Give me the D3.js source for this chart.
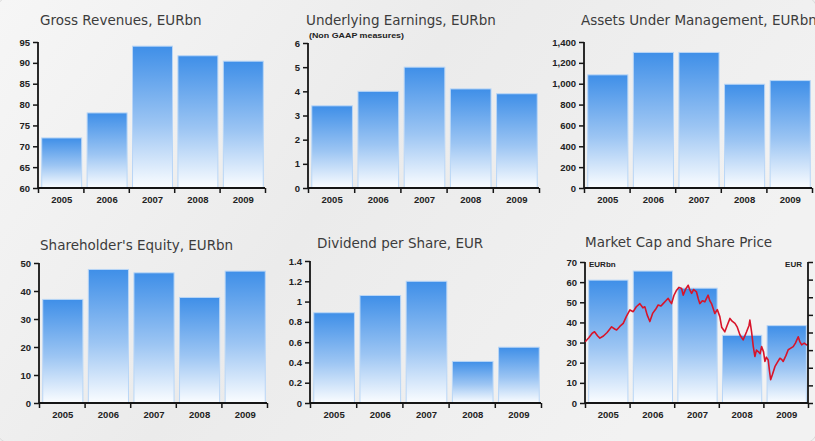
<!DOCTYPE html>
<html><head><meta charset="utf-8">
<script src="https://cdn.jsdelivr.net/npm/d3@7"></script>
<style>html,body{margin:0;padding:0;overflow:hidden;background:#eeeeee}</style>
</head><body><svg id="c" width="815" height="441"></svg>
<script>
// ---------- DATA ----------
const years = ["2005", "2006", "2007", "2008", "2009"];
const grossRevenues = [72, 78, 94, 91.7, 90.4];
const underlyingEarnings = [3.4, 4.0, 5.0, 4.1, 3.9];
const assetsUnderManagement = [1085, 1300, 1300, 995, 1030];
const shareholdersEquity = [37, 47.7, 46.5, 37.7, 47.1];
const dividendPerShare = [0.89, 1.06, 1.20, 0.41, 0.55];
const marketCap = [61, 65.5, 57, 33.6, 38.4];

const revenueTicks = [60, 65, 70, 75, 80, 85, 90, 95];
const earningsTicks = [0, 1, 2, 3, 4, 5, 6];
const aumTicks = [0, 200, 400, 600, 800, 1000, 1200, 1400];
const equityTicks = [0, 10, 20, 30, 40, 50];
const dividendTicks = [0, 0.2, 0.4, 0.6, 0.8, 1, 1.2, 1.4];
const marketCapTicks = [0, 10, 20, 30, 40, 50, 60, 70];
const priceTicks = [0, 5, 10, 15, 20, 25, 30, 35, 40];

const titles = ["Gross Revenues, EURbn", "Underlying Earnings, EURbn", "Assets Under Management, EURbn",
                "Shareholder's Equity, EURbn", "Dividend per Share, EUR", "Market Cap and Share Price"];
const earningsNote = "(Non GAAP measures)";

// share price, EUR
const sharePrice = [
["2005-01-03",17.4],["2005-02-01",18.5],["2005-03-01",19.8],["2005-03-20",20.2],["2005-04-15",19.0],
["2005-05-03",18.4],["2005-06-01",19.0],["2005-07-01",20.0],["2005-08-07",21.6],["2005-09-01",21.0],
["2005-09-17",20.7],["2005-10-15",21.8],["2005-11-10",22.6],["2005-12-05",24.5],["2006-01-04",26.4],
["2006-01-31",25.9],["2006-02-25",27.3],["2006-03-26",28.2],["2006-04-20",27.0],["2006-05-06",27.3],
["2006-05-25",25.0],["2006-06-16",23.1],["2006-07-10",25.5],["2006-08-01",26.5],["2006-08-23",27.8],
["2006-09-15",27.5],["2006-10-03",28.2],["2006-10-25",29.0],["2006-11-13",29.7],["2006-11-28",28.8],
["2006-12-11",28.2],["2006-12-30",30.5],["2007-01-21",32.0],["2007-02-10",32.8],["2007-03-03",32.5],
["2007-03-16",30.6],["2007-04-05",32.3],["2007-04-26",33.4],["2007-05-10",32.0],["2007-05-24",31.1],
["2007-06-10",32.2],["2007-07-03",31.5],["2007-07-18",29.5],["2007-07-30",28.2],["2007-08-20",29.0],
["2007-09-09",28.7],["2007-10-06",30.6],["2007-10-20",29.0],["2007-11-03",28.2],["2007-11-30",25.4],
["2007-12-20",26.5],["2008-01-10",24.5],["2008-01-25",21.5],["2008-02-20",20.2],["2008-03-10",22.0],
["2008-04-02",24.0],["2008-04-20",23.2],["2008-05-13",22.6],["2008-06-01",21.5],["2008-06-23",19.3],
["2008-07-19",17.9],["2008-08-16",20.2],["2008-09-05",22.0],["2008-09-12",23.5],["2008-09-26",20.2],
["2008-10-10",16.0],["2008-10-23",13.2],["2008-11-05",15.0],["2008-11-19",14.6],["2008-12-05",14.0],
["2008-12-17",16.0],["2009-01-02",14.5],["2009-01-13",11.8],["2009-01-25",13.0],["2009-02-09",12.2],
["2009-02-20",9.0],["2009-03-01",6.6],["2009-03-15",8.0],["2009-04-05",10.3],["2009-04-25",11.5],
["2009-05-16",12.7],["2009-06-01",12.3],["2009-06-12",11.8],["2009-07-05",13.5],["2009-07-23",15.1],
["2009-08-10",15.5],["2009-09-02",16.0],["2009-09-20",17.0],["2009-10-13",18.8],["2009-10-25",17.5],
["2009-11-10",16.5],["2009-12-01",17.0],["2009-12-20",16.5],["2009-12-31",16.7]
];

// ---------- DRAW ----------
const svg = d3.select("#c");
const defs = svg.append("defs");

const bgG = defs.append("linearGradient").attr("id", "bg")
  .attr("x1", 0).attr("y1", 0).attr("x2", 1).attr("y2", 0.4);
bgG.append("stop").attr("offset", "0").attr("stop-color", "#f6f6f6");
bgG.append("stop").attr("offset", "0.5").attr("stop-color", "#ebebeb");
bgG.append("stop").attr("offset", "1").attr("stop-color", "#f2f2f2");

const barG = defs.append("linearGradient").attr("id", "barGrad")
  .attr("x1", 0).attr("y1", 0).attr("x2", 0).attr("y2", 1);
barG.append("stop").attr("offset", "0").attr("stop-color", "#3f8fe8");
barG.append("stop").attr("offset", "0.55").attr("stop-color", "#9cc5f3");
barG.append("stop").attr("offset", "1").attr("stop-color", "#fbfdff");

svg.append("rect").attr("width", 815).attr("height", 441).attr("fill", "url(#bg)");
svg.append("rect").attr("x", -4).attr("y", -4).attr("width", 822).attr("height", 448)
  .attr("rx", 16).attr("fill", "none").attr("stroke", "#dadada").attr("stroke-width", 1);

const titleFont = "'DejaVu Sans', Verdana, sans-serif";
const tickFont = "'Liberation Sans', Arial, sans-serif";

function styleAxis(sel) {
  sel.selectAll("path.domain").attr("stroke", "#151515").attr("stroke-width", 1.8);
  sel.selectAll(".tick line").attr("stroke", "#151515").attr("stroke-width", 1.5);
  sel.selectAll(".tick text").attr("font-family", tickFont).attr("font-weight", "bold")
    .attr("font-size", "9.5px").attr("fill", "#222");
}

function panel(cfg) {
  const g = svg.append("g");
  const x = d3.scaleBand().domain(years).range([cfg.x0, cfg.x1])
    .paddingInner(0.12).paddingOuter(0.06);
  const y = d3.scaleLinear().domain([cfg.ticks[0], cfg.ticks[cfg.ticks.length - 1]])
    .range([cfg.yBot, cfg.yTop]);

  g.selectAll("rect.bar").data(cfg.values).join("rect").attr("class", "bar")
    .attr("x", (d, i) => x(years[i]) + 1)
    .attr("width", x.bandwidth())
    .attr("y", d => y(d))
    .attr("height", d => cfg.yBot - y(d))
    .attr("fill", "url(#barGrad)")
    .attr("stroke", "#b9d6f6").attr("stroke-width", 1);

  // x axis: boundary ticks
  const b = d3.scaleLinear().domain([0, years.length]).range([cfg.x0, cfg.x1]);
  const xb = g.append("g").attr("transform", `translate(0,${cfg.yBot})`)
    .call(d3.axisBottom(b).tickValues(d3.range(years.length + 1)).tickSize(5).tickFormat(""));
  styleAxis(xb);
  xb.select("path.domain").attr("d", `M${cfg.x0},0H${cfg.x1}`);
  // x labels
  const xl = g.append("g").attr("transform", `translate(1,${cfg.yBot})`)
    .call(d3.axisBottom(x).tickSize(0).tickPadding(8));
  xl.select("path.domain").remove();
  styleAxis(xl);

  // y axis
  const ya = g.append("g").attr("transform", `translate(${cfg.x0},0)`)
    .call(d3.axisLeft(y).tickValues(cfg.ticks).tickSize(5).tickPadding(3)
      .tickFormat(cfg.fmt || d3.format("")));
  styleAxis(ya);
  ya.select("path.domain").attr("d", `M0,${cfg.yTop}V${cfg.yBot}`);

  g.append("text").attr("x", cfg.tx).attr("y", cfg.ty).text(cfg.title)
    .attr("font-family", titleFont).attr("font-size", "13.5px").attr("fill", "#3c3c3c");
  return {g, x, y};
}

panel({x0: 38, x1: 265, yTop: 42, yBot: 188, ticks: revenueTicks, values: grossRevenues, title: titles[0], tx: 40, ty: 25});
const p2 = panel({x0: 308, x1: 539, yTop: 43, yBot: 188, ticks: earningsTicks, values: underlyingEarnings, title: titles[1], tx: 306, ty: 25});
p2.g.append("text").attr("x", 309).attr("y", 38).text(earningsNote)
  .attr("font-family", tickFont).attr("font-weight", "bold").attr("font-size", "7px")
  .attr("fill", "#222").attr("textLength", 95).attr("lengthAdjust", "spacingAndGlyphs");
panel({x0: 584, x1: 812, yTop: 42, yBot: 188, ticks: aumTicks, values: assetsUnderManagement, title: titles[2], tx: 581, ty: 25, fmt: d3.format(",")});
panel({x0: 39, x1: 267, yTop: 263, yBot: 403, ticks: equityTicks, values: shareholdersEquity, title: titles[3], tx: 40, ty: 250});
panel({x0: 310, x1: 541, yTop: 261, yBot: 403, ticks: dividendTicks, values: dividendPerShare, title: titles[4], tx: 317, ty: 248});
const p6 = panel({x0: 585, x1: 808, yTop: 262, yBot: 403, ticks: marketCapTicks, values: marketCap, title: titles[5], tx: 585, ty: 247});

// share price line on right axis
const parse = d3.timeParse("%Y-%m-%d");
const t = d3.scaleTime().domain([parse("2005-01-01"), parse("2010-01-01")]).range([585, 808]);
const yr = d3.scaleLinear().domain([priceTicks[0], priceTicks[priceTicks.length - 1]]).range([403, 262]);
p6.g.append("path").datum(sharePrice)
  .attr("d", d3.line().x(d => t(parse(d[0]))).y(d => yr(d[1])))
  .attr("fill", "none").attr("stroke", "#d8142a").attr("stroke-width", 1.6)
  .attr("stroke-linejoin", "round");
// right axis: its labels fall outside the picture in the reference, so only ticks are drawn
const ra = p6.g.append("g").attr("transform", "translate(808,0)")
  .call(d3.axisRight(yr).tickValues(priceTicks).tickSize(5).tickFormat(""));
styleAxis(ra);
ra.select("path.domain").attr("d", "M0,262V403");
p6.g.append("text").attr("x", 589).attr("y", 267).text("EURbn")
  .attr("font-family", tickFont).attr("font-weight", "bold").attr("font-size", "8px").attr("fill", "#222");
p6.g.append("text").attr("x", 802).attr("y", 267).attr("text-anchor", "end").text("EUR")
  .attr("font-family", tickFont).attr("font-weight", "bold").attr("font-size", "8px").attr("fill", "#222");
</script></body></html>
